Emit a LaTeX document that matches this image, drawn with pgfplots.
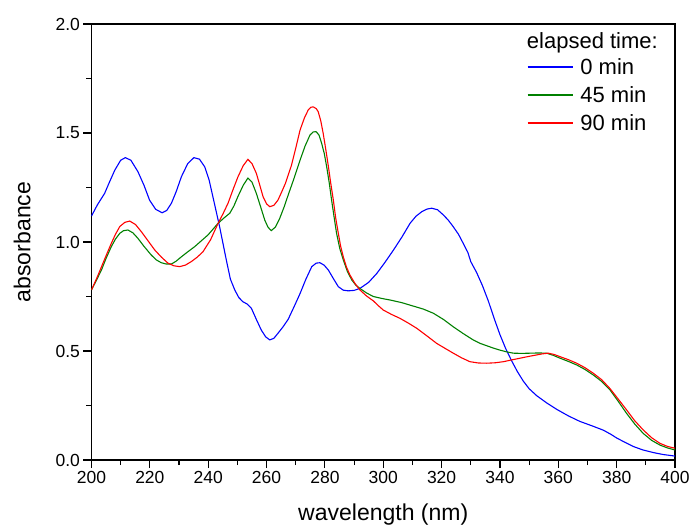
\documentclass[border=0pt]{standalone}
\usepackage{pgfplots}
\pgfplotsset{compat=1.18}
\usepackage{fontspec}
\setmainfont{Liberation Sans}
\definecolor{cblue}{RGB}{0,0,255}
\definecolor{cgreen}{RGB}{0,128,0}
\definecolor{cred}{RGB}{255,0,0}
\begin{document}
\begin{tikzpicture}
\begin{axis}[
  scale only axis,
  width=583.5bp, height=436bp,
  xmin=200, xmax=400, ymin=0, ymax=2.0,
  xtick={200,220,...,400},
  ytick={0,0.5,1.0,1.5,2.0},
  minor x tick num=1, minor y tick num=1,
  tick align=outside, tick pos=left,
  major tick length=8bp, minor tick length=5bp,
  every tick/.style={black, line width=1.1bp},
  axis line style={line width=1.1bp},
  yticklabel style={/pgf/number format/fixed, /pgf/number format/fixed zerofill, /pgf/number format/precision=1},
  xticklabel style={/pgf/number format/1000 sep={}},
  /pgf/number format/assume math mode=true,
  tick label style={font=\fontsize{17.5bp}{20bp}\selectfont},
  label style={font=\fontsize{23bp}{26bp}\selectfont},
  xlabel={wavelength (nm)}, ylabel={absorbance},
  xlabel style={at={(axis description cs:0.5,-0.126)}, anchor=center},
  ylabel style={at={(axis description cs:-0.119,0.5)}, anchor=center, rotate=0},
  legend style={draw=none, fill=none, at={(axis description cs:0.746,0.926)}, anchor=north west,
    font=\fontsize{22bp}{25bp}\selectfont, row sep=6.5bp, column sep=5bp, inner sep=0pt},
  legend cell align=left,
  legend image code/.code={\draw[#1, line width=1.4bp] (0bp,0bp) -- (45bp,0bp);},
  every axis plot/.append style={line width=1.1bp},
  clip=true,
]
\addplot[color=cblue] coordinates {
(200,1.119)(202,1.17)(204.5,1.223)(206,1.27)(208,1.33)(210,1.375)(211.6,1.387)(213.5,1.375)(215.9,1.323)(218,1.26)(219.9,1.192)(222,1.15)(224.2,1.134)(225.8,1.145)(227.4,1.178)(229,1.23)(230.8,1.299)(233,1.36)(235.1,1.387)(237,1.38)(238.8,1.345)(240.3,1.285)(241.6,1.208)(243.9,1.071)(246.2,0.918)(247.6,0.83)(249.1,0.78)(250.5,0.745)(251.9,0.726)(253.4,0.715)(254.8,0.696)(256.5,0.645)(258.2,0.596)(259.7,0.565)(261.1,0.551)(262.5,0.558)(263.9,0.581)(265.6,0.61)(267.4,0.645)(269.5,0.705)(271.5,0.764)(273.5,0.83)(275.5,0.887)(277,0.903)(278.3,0.905)(279.8,0.893)(281.2,0.871)(283,0.83)(284.6,0.795)(286.3,0.779)(288,0.776)(290,0.778)(292,0.787)(295,0.815)(297.8,0.856)(300.5,0.905)(303.5,0.963)(306.5,1.025)(309.2,1.086)(311.2,1.118)(313.2,1.139)(315,1.151)(316.6,1.155)(318.6,1.148)(320.6,1.124)(322.3,1.1)(324,1.07)(325.8,1.035)(327.4,0.994)(329,0.952)(330,0.91)(332,0.86)(334,0.80)(336,0.73)(338,0.65)(340,0.575)(342,0.51)(344,0.455)(346,0.405)(348,0.362)(350,0.327)(352.6,0.295)(356,0.262)(359.5,0.232)(363.5,0.202)(367.4,0.177)(371.5,0.157)(375.4,0.137)(378,0.118)(380,0.101)(383,0.08)(385.7,0.062)(389,0.046)(392.6,0.034)(396,0.025)(400,0.018)
};
\addplot[color=cgreen] coordinates {
(200,0.78)(201.7,0.825)(203.4,0.871)(205,0.925)(206.8,0.979)(208.2,1.013)(209.7,1.04)(211,1.052)(212.5,1.055)(214.2,1.042)(215.9,1.017)(218,0.98)(220.5,0.94)(222.2,0.918)(223.9,0.905)(225.6,0.899)(227.4,0.899)(229,0.912)(230.8,0.932)(233,0.955)(235.4,0.979)(237.6,1.005)(239.9,1.032)(241.6,1.058)(243.4,1.086)(245.4,1.11)(247.4,1.132)(248.8,1.165)(250.2,1.209)(252,1.26)(253.6,1.293)(255,1.275)(256.5,1.223)(258,1.16)(259.4,1.1)(260.5,1.068)(261.6,1.052)(263,1.068)(264.5,1.108)(266,1.16)(267.4,1.215)(269.5,1.295)(271.5,1.376)(273.2,1.44)(274.9,1.491)(276,1.505)(277,1.506)(278,1.49)(278.9,1.452)(279.8,1.405)(280.6,1.346)(281.5,1.27)(282.3,1.192)(283.2,1.11)(284,1.04)(285.1,0.97)(286.3,0.918)(287.7,0.865)(289.2,0.826)(290.6,0.802)(292,0.787)(294.3,0.766)(296.6,0.75)(299.5,0.741)(302.3,0.734)(306.3,0.722)(310.3,0.706)(313.8,0.692)(317.2,0.673)(320.6,0.645)(324,0.611)(327.4,0.58)(330.8,0.551)(333.2,0.535)(335.5,0.524)(337.8,0.513)(340,0.504)(342.3,0.496)(344.6,0.49)(347.5,0.489)(350.3,0.49)(353.2,0.491)(356,0.49)(358.3,0.48)(360.6,0.467)(363.5,0.452)(366.3,0.436)(369.2,0.415)(372,0.39)(374.9,0.36)(377.7,0.322)(380.5,0.27)(383.4,0.214)(386.2,0.165)(389.1,0.122)(392,0.09)(394.9,0.068)(397.5,0.055)(400,0.046)
};
\addplot[color=cred] coordinates {
(200,0.78)(202,0.84)(204,0.905)(205.4,0.95)(206.8,0.994)(208.2,1.035)(209.7,1.071)(211.4,1.09)(213.1,1.096)(215.1,1.08)(217.1,1.047)(219.4,1.005)(221.7,0.963)(224,0.93)(226.2,0.903)(228.2,0.891)(230.2,0.887)(232.2,0.894)(234.2,0.91)(236.2,0.93)(238.2,0.955)(240.8,1.01)(243.4,1.086)(245.1,1.13)(246.8,1.178)(248.5,1.24)(250.2,1.299)(252,1.35)(253.6,1.379)(255,1.36)(256.5,1.315)(257.7,1.26)(258.8,1.208)(260,1.175)(261.1,1.162)(262.5,1.168)(263.9,1.192)(265.2,1.23)(266.5,1.27)(268.5,1.35)(270,1.43)(271.5,1.514)(273,1.57)(274.3,1.606)(275.2,1.618)(276,1.62)(277,1.612)(277.7,1.598)(278.6,1.555)(279.4,1.499)(280.3,1.425)(281.2,1.346)(282,1.27)(282.9,1.192)(283.7,1.11)(284.6,1.04)(285.4,0.98)(286.3,0.932)(287.4,0.885)(288.6,0.848)(290.3,0.81)(292,0.78)(294.3,0.752)(296.6,0.73)(298.3,0.708)(300,0.688)(302.8,0.668)(305.7,0.65)(308.6,0.628)(311.5,0.604)(314.9,0.57)(318.3,0.535)(321.2,0.512)(324,0.49)(326.8,0.469)(329.7,0.451)(332.6,0.445)(335.5,0.444)(338.4,0.446)(341.2,0.451)(344,0.459)(346.9,0.467)(349.8,0.475)(352.6,0.482)(354.6,0.487)(356.6,0.49)(358.6,0.484)(360.6,0.474)(363.5,0.46)(366.3,0.444)(369.2,0.423)(372,0.398)(374.9,0.368)(377.7,0.328)(380.5,0.28)(383.4,0.23)(386.2,0.18)(389.1,0.138)(392,0.102)(394.9,0.076)(397.5,0.062)(400,0.054)
};
\addlegendentry{0 min}
\addlegendentry{45 min}
\addlegendentry{90 min}
\node[anchor=west, font=\fontsize{22bp}{25bp}\selectfont, inner sep=0pt] at (axis description cs:0.746,0.956) {elapsed time:};
\end{axis}
\pgfresetboundingbox
\path[use as bounding box] (-91.5bp,-69bp) rectangle (600.5bp,460bp);
\end{tikzpicture}
\end{document}
